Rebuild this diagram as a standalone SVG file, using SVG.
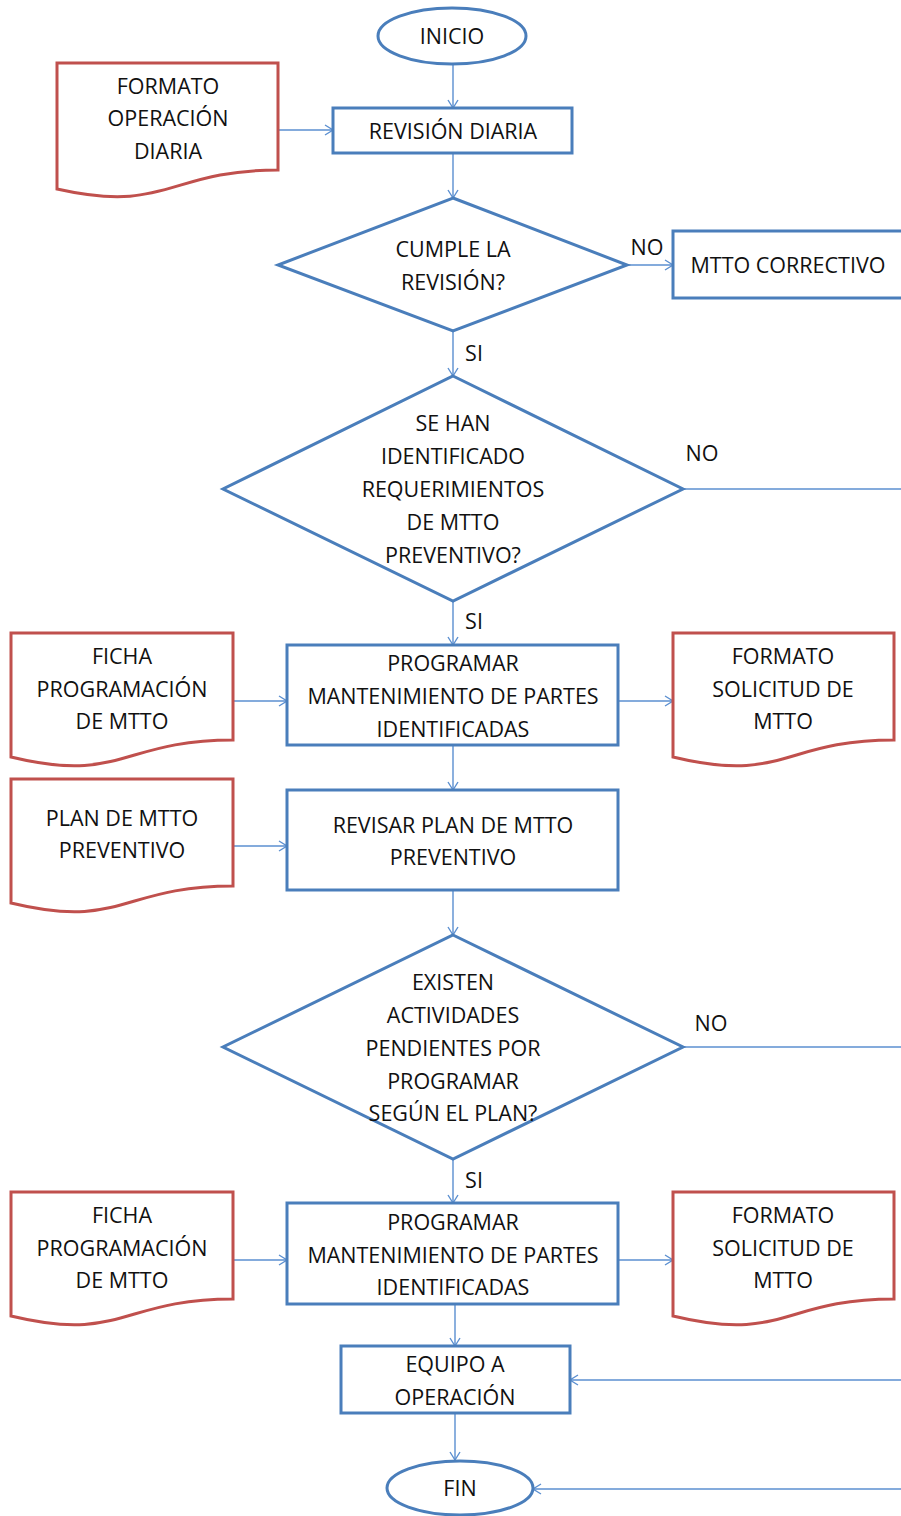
<svg xmlns="http://www.w3.org/2000/svg" width="901" height="1516" viewBox="0 0 901 1516">
<style>
.blue{fill:#fff;stroke:#4a7ebb;stroke-width:3}
.red{fill:#fff;stroke:#c0504d;stroke-width:3}
.t{font-family:"Open Sans","Liberation Sans",sans-serif;font-size:21.5px;fill:#111;text-anchor:middle}
.c{fill:none;stroke:#5b8fd0;stroke-width:1.4}
.a{marker-end:url(#arr)}
</style>
<defs>
<marker id="arr" markerUnits="userSpaceOnUse" markerWidth="12" markerHeight="12" refX="9" refY="6" orient="auto">
<path d="M1,1 L9,6 L1,11" fill="none" stroke="#5b8fd0" stroke-width="1.4"/>
</marker>
</defs>
<g id="connectors">
<path class="c a" d="M453,64 V108"/>
<path class="c a" d="M278,130 H333"/>
<path class="c a" d="M453,153 V198"/>
<path class="c a" d="M627,265 H673"/>
<path class="c a" d="M453,331 V376"/>
<path class="c" d="M683,489 H901"/>
<path class="c a" d="M453,601 V645"/>
<path class="c a" d="M233,701 H287"/>
<path class="c a" d="M618,701 H673"/>
<path class="c a" d="M453,745 V790"/>
<path class="c a" d="M233,846 H287"/>
<path class="c a" d="M453,890 V935"/>
<path class="c" d="M683,1047 H901"/>
<path class="c a" d="M453,1159 V1203"/>
<path class="c a" d="M233,1260 H287"/>
<path class="c a" d="M618,1260 H673"/>
<path class="c a" d="M455,1304 V1346"/>
<path class="c a" d="M901,1380 H570"/>
<path class="c a" d="M455,1413 V1460"/>
<path class="c a" d="M901,1489 H533"/>
<text class="t" x="647" y="255">NO</text>
<text class="t" x="474" y="361">SI</text>
<text class="t" x="702" y="461">NO</text>
<text class="t" x="474" y="629">SI</text>
<text class="t" x="711" y="1031">NO</text>
<text class="t" x="474" y="1188">SI</text>
</g>
<g id="inicio">
<ellipse class="blue" cx="452" cy="36" rx="74" ry="28"/>
<text class="t" x="452" y="44">INICIO</text>
</g>
<g id="formato-operacion">
<path class="red" d="M57,63 H278 V170 C168,170 168,214 57,189 Z"/>
<text class="t" x="168" y="94">FORMATO</text>
<text class="t" x="168" y="126">OPERACIÓN</text>
<text class="t" x="168" y="159">DIARIA</text>
</g>
<g id="revision-diaria">
<rect class="blue" x="333" y="108" width="239" height="45"/>
<text class="t" x="453" y="139">REVISIÓN DIARIA</text>
</g>
<g id="cumple">
<path class="blue" d="M453,198 L627,265 L453,331 L278,265 Z"/>
<text class="t" x="453" y="257">CUMPLE LA</text>
<text class="t" x="453" y="290">REVISIÓN?</text>
</g>
<g id="mtto-correctivo">
<rect class="blue" x="673" y="231" width="240" height="67"/>
<text class="t" x="788" y="273">MTTO CORRECTIVO</text>
</g>
<g id="identificado">
<path class="blue" d="M453,376 L683,489 L453,601 L223,489 Z"/>
<text class="t" x="453" y="431">SE HAN</text>
<text class="t" x="453" y="464">IDENTIFICADO</text>
<text class="t" x="453" y="497">REQUERIMIENTOS</text>
<text class="t" x="453" y="530">DE MTTO</text>
<text class="t" x="453" y="563">PREVENTIVO?</text>
</g>
<g id="ficha-1">
<path class="red" d="M11,633 H233 V740 C122,740 122,784 11,757 Z"/>
<text class="t" x="122" y="664">FICHA</text>
<text class="t" x="122" y="697">PROGRAMACIÓN</text>
<text class="t" x="122" y="729">DE MTTO</text>
</g>
<g id="programar-1">
<rect class="blue" x="287" y="645" width="331" height="100"/>
<text class="t" x="453" y="671">PROGRAMAR</text>
<text class="t" x="453" y="704">MANTENIMIENTO DE PARTES</text>
<text class="t" x="453" y="737">IDENTIFICADAS</text>
</g>
<g id="formato-solicitud-1">
<path class="red" d="M673,633 H894 V740 C784,740 784,784 673,757 Z"/>
<text class="t" x="783" y="664">FORMATO</text>
<text class="t" x="783" y="697">SOLICITUD DE</text>
<text class="t" x="783" y="729">MTTO</text>
</g>
<g id="plan-mtto">
<path class="red" d="M11,779 H233 V886 C122,886 122,930 11,903 Z"/>
<text class="t" x="122" y="826">PLAN DE MTTO</text>
<text class="t" x="122" y="858">PREVENTIVO</text>
</g>
<g id="revisar-plan">
<rect class="blue" x="287" y="790" width="331" height="100"/>
<text class="t" x="453" y="833">REVISAR PLAN DE MTTO</text>
<text class="t" x="453" y="865">PREVENTIVO</text>
</g>
<g id="existen">
<path class="blue" d="M453,935 L683,1047 L453,1159 L223,1047 Z"/>
<text class="t" x="453" y="990">EXISTEN</text>
<text class="t" x="453" y="1023">ACTIVIDADES</text>
<text class="t" x="453" y="1056">PENDIENTES POR</text>
<text class="t" x="453" y="1089">PROGRAMAR</text>
<text class="t" x="453" y="1121">SEGÚN EL PLAN?</text>
</g>
<g id="ficha-2">
<path class="red" d="M11,1192 H233 V1299 C122,1299 122,1343 11,1316 Z"/>
<text class="t" x="122" y="1223">FICHA</text>
<text class="t" x="122" y="1256">PROGRAMACIÓN</text>
<text class="t" x="122" y="1288">DE MTTO</text>
</g>
<g id="programar-2">
<rect class="blue" x="287" y="1203" width="331" height="101"/>
<text class="t" x="453" y="1230">PROGRAMAR</text>
<text class="t" x="453" y="1263">MANTENIMIENTO DE PARTES</text>
<text class="t" x="453" y="1295">IDENTIFICADAS</text>
</g>
<g id="formato-solicitud-2">
<path class="red" d="M673,1192 H894 V1299 C784,1299 784,1343 673,1316 Z"/>
<text class="t" x="783" y="1223">FORMATO</text>
<text class="t" x="783" y="1256">SOLICITUD DE</text>
<text class="t" x="783" y="1288">MTTO</text>
</g>
<g id="equipo-operacion">
<rect class="blue" x="341" y="1346" width="229" height="67"/>
<text class="t" x="455" y="1372">EQUIPO A</text>
<text class="t" x="455" y="1405">OPERACIÓN</text>
</g>
<g id="fin">
<ellipse class="blue" cx="460" cy="1488" rx="73" ry="27"/>
<text class="t" x="460" y="1496">FIN</text>
</g>
</svg>
